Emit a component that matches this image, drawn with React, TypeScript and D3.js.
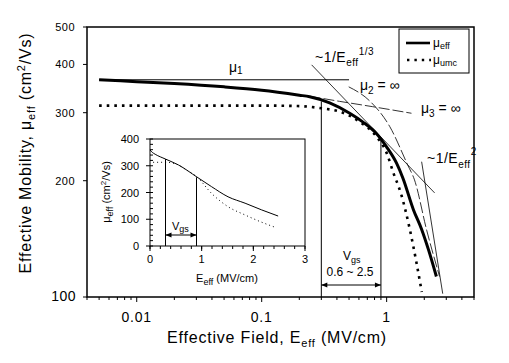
import React from 'react'
import * as d3 from 'd3'

const W = 509
const H = 363
const FONT = "Arial, 'Liberation Sans', sans-serif"

// main plot: effective mobility vs effective field (log-log)
const effE = [0.005, 0.01, 0.02, 0.05, 0.1, 0.2, 0.242, 0.35, 0.506, 0.643, 0.828, 0.995, 1.2, 1.35, 1.64, 1.9, 2.17, 2.5]
const effMu = [365, 361, 357, 350, 343, 333, 330, 318, 299, 284, 265, 245, 222, 203, 168, 150, 132, 113]
const umcE = [0.005, 0.01, 0.05, 0.1, 0.2, 0.3, 0.42, 0.6, 0.83, 1.0, 1.13, 1.31, 1.53, 1.73, 1.91]
const umcMu = [313, 313, 313, 313, 312, 308, 302, 285, 260, 236, 210, 184, 150, 123, 103]
const mu1E = [0.005, 0.5]
const mu1Mu = [365, 365]
const thirdE = [0.251, 2.42]
const thirdMu = [399, 186]
const mu2InfE = [0.497, 0.73, 1.06, 1.47, 1.67, 2.09, 2.65]
const mu2InfMu = [350, 322, 276, 220, 201, 149, 113]
const mu3InfE = [0.242, 0.42, 0.77, 1.58]
const mu3InfMu = [331, 321, 311, 299]
const sqE = [1.905, 2.81]
const sqMu = [224, 102]
const vgsE = [0.3, 0.9]
const vgsTop = [321, 254]

const yTicks = [500, 400, 300, 200, 100]
const xMajor = [0.01, 0.1, 1]
const xTickLabels = ['0.01', '0.1', '1']

// inset: linear axes
const inE = [0, 0.045, 0.1, 0.3, 0.55, 0.915, 1.19, 1.51, 1.84, 2.16, 2.48]
const inEff = [359, 350, 343, 325, 303, 257, 222, 184, 160, 135, 112]
const inUmcE = [0.06, 0.3, 0.5, 0.7, 0.915, 1.19, 1.51, 1.84, 2.16, 2.45]
const inUmc = [313, 313, 307, 285, 257, 197, 147, 116, 89, 68]
const inVgsTop = [325, 257]
const inYTicks = [0, 100, 200, 300, 400]
const inXTicks = [0, 1, 2, 3]

const x = d3.scaleLog().domain([0.004, 5]).range([87, 474])
const y = d3.scaleLog().domain([100, 500]).range([297, 27])
const ix = d3.scaleLinear().domain([0, 3]).range([150, 305])
const iy = d3.scaleLinear().domain([0, 400]).range([246, 139])

const line = d3.line<[number, number]>().x(d => x(d[0])).y(d => y(d[1])).curve(d3.curveMonotoneX)
const iline = d3.line<[number, number]>().x(d => ix(d[0])).y(d => iy(d[1])).curve(d3.curveMonotoneX)
const zip = (a: number[], b: number[]) => a.map((v, i) => [v, b[i]] as [number, number])

const minorX: number[] = []
for (const dec of [0.001, 0.01, 0.1, 1]) {
  for (let k = 1; k <= 9; k++) {
    const v = dec * k
    if (v >= 0.004 && v <= 5 && k !== 1) minorX.push(v)
  }
}

const arrow = (x1: number, x2: number, yy: number) => (
  <g>
    <line x1={x1} x2={x2} y1={yy} y2={yy} stroke='#000' />
    <path d={`M${x1},${yy}l6,-2.5v5z`} fill='#000' />
    <path d={`M${x2},${yy}l-6,-2.5v5z`} fill='#000' />
  </g>
)

export default function App () {
  const inMinorY = d3.range(0, 401, 20)
  const inMinorX = d3.range(0, 3.01, 0.2)
  return (
    <div style={{ position: 'absolute', left: 0, top: 0 }}>
      <svg width={W} height={H} style={{ display: 'block', background: '#fff', fontFamily: FONT }}>
        {/* main frame */}
        <rect x={87} y={27} width={387} height={270} fill='none' stroke='#000' strokeWidth={1.5} />
        {yTicks.map(t => (
          <line key={t} x1={83} x2={87} y1={y(t)} y2={y(t)} stroke='#000' />
        ))}
        {yTicks.slice(0, 4).map(t => (
          <text key={t} x={75} y={y(t) + 4} textAnchor='end' fontSize={11} letterSpacing={0.5}>{t}</text>
        ))}
        <text x={76} y={301} textAnchor='end' fontSize={14} letterSpacing={0.5}>100</text>
        {minorX.map(t => (
          <line key={t} x1={x(t)} x2={x(t)} y1={297} y2={300} stroke='#000' />
        ))}
        {xMajor.map((t, i) => (
          <g key={t}>
            <line x1={x(t)} x2={x(t)} y1={297} y2={302} stroke='#000' />
            <text x={x(t)} y={322} textAnchor='middle' fontSize={14} letterSpacing={0.8}>{xTickLabels[i]}</text>
          </g>
        ))}
        <text x={277} y={343} textAnchor='middle' fontSize={16} letterSpacing={0.8}>
          Effective Field, E<tspan fontSize={11} dy={4}>eff</tspan><tspan dy={-4}> (MV/cm)</tspan>
        </text>
        <text transform='translate(31,153) rotate(-90)' textAnchor='middle' fontSize={16} letterSpacing={0.8}>
          Effective Mobility, μ<tspan fontSize={11} dy={4}>eff</tspan><tspan dy={-4}> (cm</tspan>
          <tspan fontSize={11} dy={-6}>2</tspan><tspan dy={6}>/Vs)</tspan>
        </text>

        {/* curves */}
        <path d={line(zip(mu1E, mu1Mu)) || ''} fill='none' stroke='#000' strokeWidth={1} />
        <path d={line(zip(thirdE, thirdMu)) || ''} fill='none' stroke='#000' strokeWidth={0.8} />
        <path d={line(zip(sqE, sqMu)) || ''} fill='none' stroke='#000' strokeWidth={0.8} />
        <path d={line(zip(mu2InfE, mu2InfMu)) || ''} fill='none' stroke='#000' strokeWidth={0.8} strokeDasharray='11,3' />
        <path d={line(zip(mu3InfE, mu3InfMu)) || ''} fill='none' stroke='#000' strokeWidth={0.8} strokeDasharray='11,3' />
        <path d={line(zip(umcE, umcMu)) || ''} fill='none' stroke='#000' strokeWidth={2.6} strokeDasharray='2.6,5' />
        <path d={line(zip(effE, effMu)) || ''} fill='none' stroke='#000' strokeWidth={3} />
        {vgsE.map((e, i) => (
          <line key={e} x1={x(e)} x2={x(e)} y1={y(vgsTop[i])} y2={297} stroke='#000' />
        ))}
        {arrow(x(vgsE[0]), x(vgsE[1]), 285)}
        <text x={343} y={260} fontSize={12}>V<tspan fontSize={9} dy={3}>gs</tspan></text>
        <text x={350} y={276} textAnchor='middle' fontSize={12}>0.6 ~ 2.5</text>

        {/* annotations */}
        <text x={229} y={72} fontSize={14}>μ<tspan fontSize={10} dy={2}>1</tspan></text>
        <text x={315} y={62} fontSize={14} letterSpacing={0.5}>
          ~1/E<tspan fontSize={10} dy={4}>eff</tspan><tspan fontSize={10} dy={-11}>1/3</tspan>
        </text>
        <text x={360} y={90} fontSize={14}>
          μ<tspan fontSize={10} dy={4}>2</tspan><tspan dy={-4}> = ∞</tspan>
        </text>
        <text x={421} y={113} fontSize={14}>
          μ<tspan fontSize={10} dy={4}>3</tspan><tspan dy={-4}> = ∞</tspan>
        </text>
        <text x={427} y={163} fontSize={14} letterSpacing={0.5}>
          ~1/E<tspan fontSize={10} dy={5}>eff</tspan><tspan fontSize={10} dy={-13}>2</tspan>
        </text>

        {/* legend */}
        <rect x={399} y={29} width={70} height={44} fill='#fff' stroke='#000' />
        <line x1={406} x2={430} y1={43} y2={43} stroke='#000' strokeWidth={2.6} />
        <line x1={407} x2={431} y1={60} y2={60} stroke='#000' strokeWidth={2.4} strokeDasharray='2.4,5' />
        <text x={433} y={47} fontSize={12}>μ<tspan fontSize={9} dy={2}>eff</tspan></text>
        <text x={433} y={64} fontSize={12}>μ<tspan fontSize={9} dy={2}>umc</tspan></text>

        {/* inset */}
        <rect x={150} y={139} width={155} height={107} fill='#fff' stroke='#000' />
        {inMinorY.map(t => (
          <line key={t} x1={150} x2={153} y1={iy(t)} y2={iy(t)} stroke='#000' />
        ))}
        {inYTicks.map(t => (
          <g key={t}>
            <line x1={146} x2={150} y1={iy(t)} y2={iy(t)} stroke='#000' />
            <text x={139} y={iy(t) + 4} textAnchor='end' fontSize={11}>{t}</text>
          </g>
        ))}
        {inMinorX.map(t => (
          <line key={t} x1={ix(t)} x2={ix(t)} y1={246} y2={249} stroke='#000' />
        ))}
        {inXTicks.map(t => (
          <g key={t}>
            <line x1={ix(t)} x2={ix(t)} y1={246} y2={251} stroke='#000' />
            <text x={ix(t)} y={263} textAnchor='middle' fontSize={11}>{t}</text>
          </g>
        ))}
        <text x={227} y={282} textAnchor='middle' fontSize={11}>
          E<tspan fontSize={9} dy={3}>eff</tspan><tspan dy={-3}> (MV/cm)</tspan>
        </text>
        <text transform='translate(110,192) rotate(-90)' textAnchor='middle' fontSize={11}>
          μ<tspan fontSize={9} dy={3}>eff</tspan><tspan dy={-3}> (cm</tspan>
          <tspan fontSize={8} dy={-4}>2</tspan><tspan dy={4}>/Vs)</tspan>
        </text>
        <path d={iline(zip(inUmcE, inUmc)) || ''} fill='none' stroke='#000' strokeWidth={1} strokeDasharray='1,3' />
        <path d={iline(zip(inE, inEff)) || ''} fill='none' stroke='#000' strokeWidth={1} />
        {vgsE.map((e, i) => (
          <line key={e} x1={ix(e)} x2={ix(e)} y1={iy(inVgsTop[i])} y2={246} stroke='#000' />
        ))}
        {arrow(ix(vgsE[0]), ix(vgsE[1]), 235)}
        <text x={172} y={230} fontSize={11}>V<tspan fontSize={9} dy={2}>gs</tspan></text>
      </svg>
    </div>
  )
}
